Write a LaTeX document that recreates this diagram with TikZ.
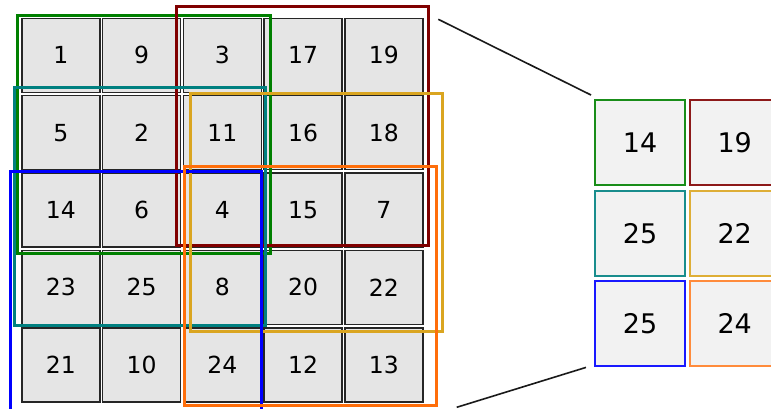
\documentclass[tikz,border=0pt]{standalone}
\usepackage{fontspec}
\setmainfont{DejaVu Sans}
\usetikzlibrary{positioning,calc}
\definecolor{poolGreen}{RGB}{0,128,0}
\definecolor{poolRed}{RGB}{128,0,0}
\definecolor{poolTeal}{RGB}{0,128,128}
\definecolor{poolGold}{RGB}{218,165,32}
\definecolor{poolBlue}{RGB}{0,0,255}
\definecolor{poolOrange}{RGB}{255,110,10}
\definecolor{cellFill}{RGB}{229,229,229}
\definecolor{outFill}{RGB}{242,242,242}

\begin{document}
\begin{tikzpicture}[x=1pt,y=-1pt,
    incell/.style={draw=black!85, line width=1.4pt, fill=cellFill, minimum width=78pt, minimum height=74pt,
      inner sep=0pt, font=\fontsize{23.5}{26}\selectfont},
    outcell/.style={draw=#1, line width=2pt, fill=outFill, minimum width=90pt, minimum height=85pt,
      inner sep=0pt, font=\fontsize{27}{30}\selectfont},
    window/.style={draw=#1, line width=3pt}]
    \useasboundingbox (0,0) rectangle (771,408);
    \clip (0,0) rectangle (771,408);

    % input grid
    \foreach \row/\vals in {1/{1,9,3,17,19}, 2/{5,2,11,16,18}, 3/{14,6,4,15,7}, 4/{23,25,8,20,22}, 5/{21,10,24,12,13}} {
      \foreach \v [count=\col] in \vals
        \node[incell] (in-\row-\col) at ({60.85+80.75*(\col-1)}, {55.2+77.4*(\row-1)}) {\v};
    }

    % pooling windows
    \draw[window=poolGreen] (17.3,15) rectangle (270,253.3);
    \draw[window=poolRed] (176.7,6) rectangle (428.3,245);
    \draw[window=poolTeal] (14,87.3) rectangle (265.7,325.7);
    \draw[window=poolGold] (190,93.3) rectangle (442.3,331.7);
    \draw[window=poolBlue] (10,171.7) rectangle (261.7,412);
    \draw[window=poolOrange] (184.3,166.7) rectangle (436.7,405);

    % output
    \node[outcell=poolGreen!90] (out-1-1) at (640,142.5) {14};
    \node[outcell=poolRed!90, right=2.7pt of out-1-1] (out-1-2) {19};
    \node[outcell=poolTeal!90, below=3.7pt of out-1-1] (out-2-1) {25};
    \node[outcell=poolGold!90, right=2.7pt of out-2-1] (out-2-2) {22};
    \node[outcell=poolBlue!90, below=3.7pt of out-2-1] (out-3-1) {25};
    \node[outcell=poolOrange!80, right=2.7pt of out-3-1] (out-3-2) {24};

    \coordinate (zoomTop) at (438.3,19.3);
    \coordinate (zoomBot) at (456.7,407.3);
    \draw[line width=1.6pt, black!90] (zoomTop) -- ($(out-1-1.north west)+(-3,-4)$);
    \draw[line width=1.6pt, black!90] (zoomBot) -- ($(out-3-1.south west)+(-8,0)$);
\end{tikzpicture}
\end{document}
